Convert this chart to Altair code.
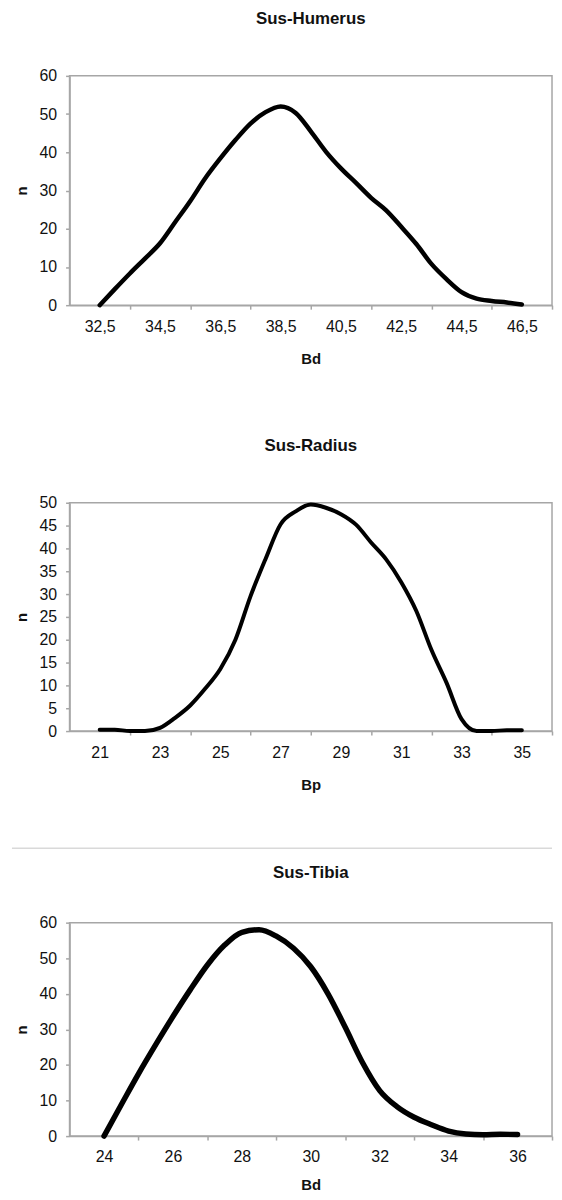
import altair as alt
import pandas as pd

# ---- data ----
hum_bd = [32.5, 33.0, 33.5, 34.0, 34.5, 35.0, 35.5, 36.0, 36.5, 37.0, 37.5, 38.0, 38.5, 39.0, 39.5,
          40.0, 40.5, 41.0, 41.5, 42.0, 42.5, 43.0, 43.5, 44.0, 44.5, 45.0, 45.5, 46.0, 46.5]
hum_n = [0, 4.2, 8.3, 12.2, 16.2, 21.7, 27.2, 33.2, 38.4, 43.2, 47.5, 50.5, 52, 50.3, 45.5,
         40.2, 35.8, 32.0, 28.1, 24.8, 20.5, 16.0, 10.8, 6.8, 3.4, 1.7, 1.1, 0.7, 0.2]
hum_labels = [32.5, 34.5, 36.5, 38.5, 40.5, 42.5, 44.5, 46.5]

rad_bp = [21.0, 21.5, 22.0, 22.5, 23.0, 23.5, 24.0, 24.5, 25.0, 25.5, 26.0, 26.5, 27.0, 27.5, 28.0,
          28.5, 29.0, 29.5, 30.0, 30.5, 31.0, 31.5, 32.0, 32.5, 33.0, 33.5, 34.0, 34.5, 35.0]
rad_n = [0.3, 0.3, 0, 0, 0.7, 2.9, 5.6, 9.3, 13.6, 20, 29.5, 37.7, 45.3, 48.1, 49.6,
         48.9, 47.5, 45.2, 41.3, 37.6, 32.6, 26.3, 17.8, 10.6, 2.6, 0, 0, 0.2, 0.2]
rad_labels = [21, 23, 25, 27, 29, 31, 33, 35]

tib_bd = [24.0, 24.5, 25.0, 25.5, 26.0, 26.5, 27.0, 27.5, 28.0, 28.5, 29.0, 29.5, 30.0,
          30.5, 31.0, 31.5, 32.0, 32.5, 33.0, 33.5, 34.0, 34.5, 35.0, 35.5, 36.0]
tib_n = [0, 8.8, 17.5, 25.7, 33.6, 41.1, 48.1, 53.7, 57.3, 58, 56.2, 52.8, 47.6,
         40, 30.6, 20.7, 12.8, 8.3, 5.3, 3.2, 1.4, 0.6, 0.4, 0.5, 0.45]
tib_labels = [24, 26, 28, 30, 32, 34, 36]

W = 486
FONT = "Liberation Sans"
GRAY = "#a6a6a6"


def panel(xs, ns, title, xtitle, xdomain, labels, ymax, ystep, height, stroke,
          decimal=False, extra=None, title_offset=40, xlabel_pad=10, xtitle_pad=17):
    df = pd.DataFrame({"x": xs, "n": ns})
    unit = W / (xdomain[1] - xdomain[0])
    expr = "replace(format(datum.value, '.1f'), '.', ',')" if decimal else "format(datum.value, 'd')"
    line = alt.Chart(df).mark_line(
        color="black", strokeWidth=stroke, interpolate="monotone", strokeCap="round"
    ).encode(
        x=alt.X("x:Q",
                scale=alt.Scale(domain=xdomain, nice=False, zero=False),
                axis=alt.Axis(values=labels, title=xtitle, tickOffset=unit, labelOffset=-unit,
                              labelExpr=expr, labelFlush=False, labelOverlap=False,
                              tickSize=4, labelPadding=xlabel_pad, titlePadding=xtitle_pad)),
        y=alt.Y("n:Q",
                scale=alt.Scale(domain=[0, ymax], nice=False),
                axis=alt.Axis(values=list(range(0, ymax + 1, ystep)), title="n",
                              labelFlush=False, labelOverlap=False,
                              tickSize=4, labelPadding=9, titlePadding=10)),
    )
    layers = [line]
    if extra is not None:
        layers.append(extra)
    return alt.layer(*layers).properties(
        width=W, height=height,
        title=alt.TitleParams(title, font=FONT, fontSize=17, fontWeight="bold", color="#111",
                              anchor="middle", offset=title_offset),
    )


sep = alt.Chart(pd.DataFrame({"a": [0]})).mark_rule(color="#d9d9d9", strokeWidth=1.5).encode(
    x=alt.value(-58), x2=alt.value(W), y=alt.value(348)
)

c1 = panel(hum_bd, hum_n, "Sus-Humerus", "Bd", [31.5, 47.5], hum_labels, 60, 10, 231, 4.5, decimal=True)
c2 = panel(rad_bp, rad_n, "Sus-Radius", "Bp", [20, 36], rad_labels, 50, 5, 230, 4, extra=sep)
c3 = panel(tib_bd, tib_n, "Sus-Tibia", "Bd", [23, 37], tib_labels, 60, 10, 215, 5.5,
           title_offset=33, xlabel_pad=9, xtitle_pad=13)

chart = alt.vconcat(alt.vconcat(c1, c2, spacing=69), c3, spacing=13).properties(
    padding={"left": 2, "top": -3, "right": 0, "bottom": 0}
).configure_view(
    stroke=GRAY, strokeWidth=1.5
).configure_axis(
    grid=False, domainColor=GRAY, tickColor=GRAY, domainWidth=1.5, tickWidth=1.5,
    labelFont=FONT, labelFontSize=16, labelColor="#111",
    titleFont=FONT, titleFontSize=15, titleFontWeight="bold", titleColor="#111",
).configure_concat(spacing=20)

chart.save("out.html", embed_options={"renderer": "svg", "actions": False})
